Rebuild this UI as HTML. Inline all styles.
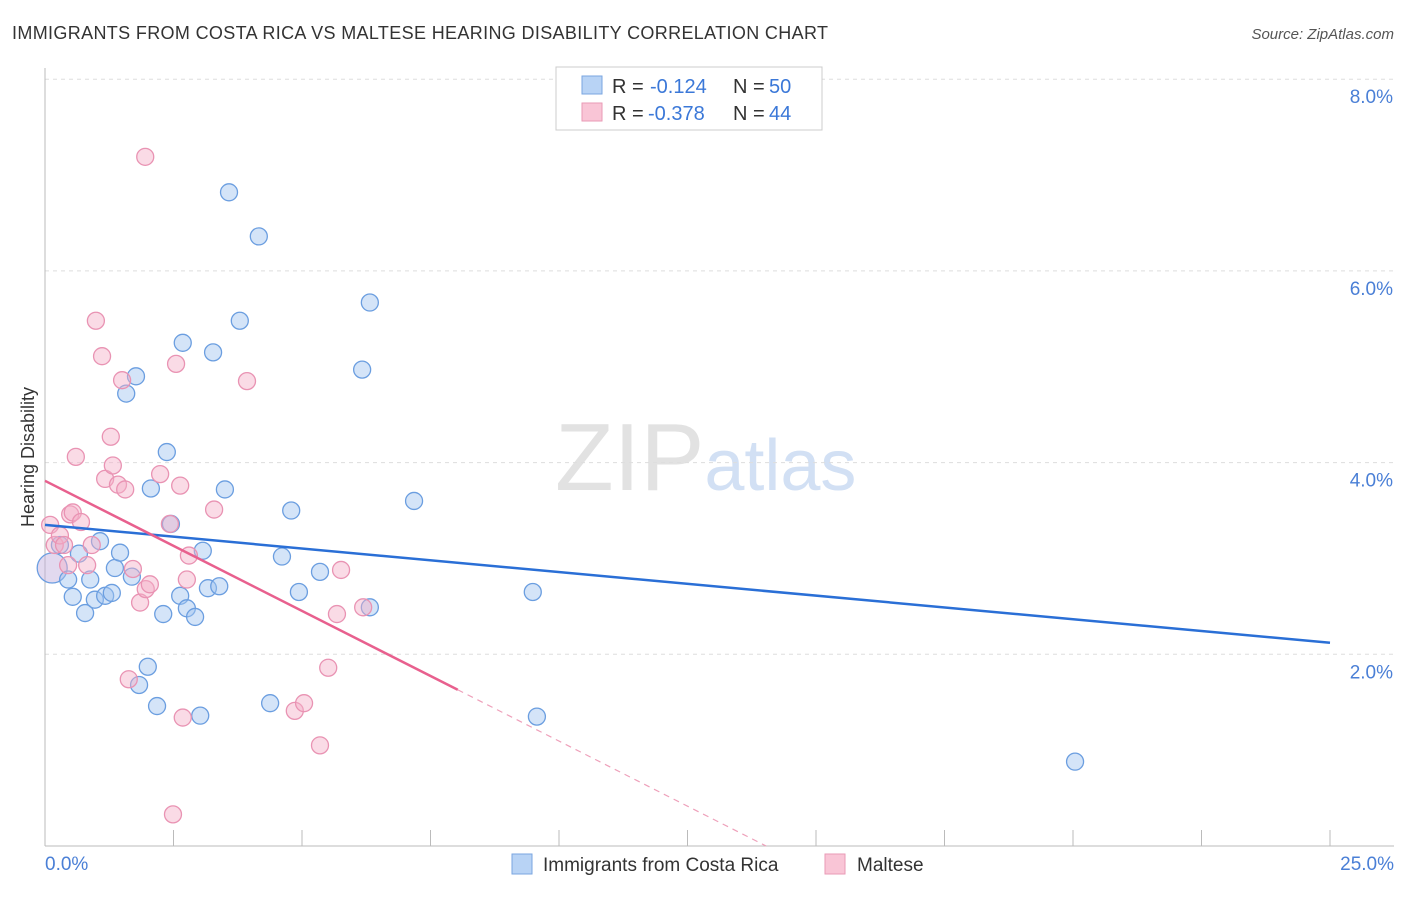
<!DOCTYPE html>
<html><head><meta charset="utf-8"><style>
body{margin:0;background:#fff;font-family:"Liberation Sans",sans-serif;}
svg text{font-family:"Liberation Sans",sans-serif;}
</style></head><body>
<svg id="chart" width="1406" height="892" xmlns="http://www.w3.org/2000/svg">
<text x="12" y="39" font-size="18" fill="#333" textLength="816" lengthAdjust="spacing">IMMIGRANTS FROM COSTA RICA VS MALTESE HEARING DISABILITY CORRELATION CHART</text>
<text x="1394" y="39" font-size="15" fill="#555" text-anchor="end" font-style="italic">Source: ZipAtlas.com</text>
<text x="555" y="490" font-size="96" fill="#e2e2e2" font-family="Liberation Serif">ZIP<tspan fill="#d2e0f4" font-family="Liberation Sans" font-size="72">atlas</tspan></text>
<text transform="translate(34,457) rotate(-90)" font-size="18" fill="#333" text-anchor="middle">Hearing Disability</text>
<g id="grid"></g><g id="axes"></g><g id="marks"></g>
<g>
<rect x="556" y="67" width="266" height="63" fill="#fff" stroke="#ccc"/>
<rect x="582" y="76" width="20" height="18" fill="#b8d3f5" stroke="#7aa6e0"/>
<rect x="582" y="103" width="20" height="18" fill="#f9c5d6" stroke="#e99ab6"/>
<text x="612" y="93" font-size="20" fill="#333">R =</text>
<text x="650" y="93" font-size="20" fill="#3b78d8">-0.124</text>
<text x="733" y="93" font-size="20" fill="#333">N =</text>
<text x="769" y="93" font-size="20" fill="#3b78d8">50</text>
<text x="612" y="120" font-size="20" fill="#333">R =</text>
<text x="648" y="120" font-size="20" fill="#3b78d8">-0.378</text>
<text x="733" y="120" font-size="20" fill="#333">N =</text>
<text x="769" y="120" font-size="20" fill="#3b78d8">44</text>
</g>
<g>
<rect x="512" y="854" width="20" height="20" fill="#b8d3f5" stroke="#7aa6e0"/>
<text x="543" y="871" font-size="19" fill="#333">Immigrants from Costa Rica</text>
<rect x="825" y="854" width="20" height="20" fill="#f9c5d6" stroke="#e99ab6"/>
<text x="857" y="871" font-size="19" fill="#333">Maltese</text>
</g>
</svg>
<script>
const yTicks=[2,4,6,8];
const yTickLabels=["2.0%","4.0%","6.0%","8.0%"];
const xLabels=["0.0%","25.0%"];
const blueX=[0.14,0.29,0.45,0.54,0.66,0.78,0.88,0.97,1.07,1.17,1.30,1.36,1.46,1.58,1.69,1.77,1.83,2.00,2.06,2.18,2.30,2.37,2.45,2.63,2.68,2.76,2.92,3.02,3.07,3.17,3.27,3.39,3.50,3.58,3.79,4.16,4.38,4.61,4.79,4.94,5.35,6.17,6.32,6.32,7.18,9.49,9.57,20.04];
const blueY=[2.90,3.14,2.78,2.60,3.05,2.43,2.78,2.57,3.18,2.61,2.64,2.90,3.06,4.72,2.81,4.90,1.68,1.87,3.73,1.46,2.42,4.11,3.36,2.61,5.25,2.48,2.39,1.36,3.08,2.69,5.15,2.71,3.72,6.82,5.48,6.36,1.49,3.02,3.50,2.65,2.86,4.97,5.67,2.49,3.60,2.65,1.35,0.88];
const pinkX=[0.10,0.19,0.29,0.37,0.45,0.49,0.54,0.60,0.70,0.82,0.91,0.99,1.11,1.17,1.28,1.32,1.42,1.50,1.56,1.63,1.71,1.85,1.96,2.04,1.95,2.24,2.43,2.55,2.63,2.68,2.76,2.80,3.29,3.93,4.86,5.04,5.35,5.51,5.68,5.76,6.19,2.49];
const pinkY=[3.35,3.14,3.24,3.14,2.93,3.46,3.48,4.06,3.38,2.93,3.14,5.48,5.11,3.83,4.27,3.97,3.77,4.86,3.72,1.74,2.89,2.54,2.68,2.73,7.19,3.88,3.36,5.03,3.76,1.34,2.78,3.03,3.51,4.85,1.41,1.49,1.05,1.86,2.42,2.88,2.49,0.33];
const blueLine=[[0,3.35],[25,2.12]];
const pinkLine=[[0,3.81],[8.03,1.63]];
const pinkDash=[[8.03,1.63],[14.03,0]];
const X=v=>45+v*51.4, Y=v=>846-v*95.85;
const NS="http://www.w3.org/2000/svg";
function mk(p,t,a){const e=document.createElementNS(NS,t);for(const k in a)e.setAttribute(k,a[k]);p.appendChild(e);return e;}
const grid=document.getElementById('grid'),axes=document.getElementById('axes'),marks=document.getElementById('marks');
yTicks.forEach((t,i)=>{
 const l=mk(grid,'line',{x1:45,x2:1394,y1:Y(t),y2:Y(t),stroke:'#ddd','stroke-dasharray':'4,4'});
 
 
 const tx=mk(axes,'text',{x:1393,y:Y(t)+24,'font-size':19,fill:'#4a7fd6','text-anchor':'end'});
 tx.textContent=yTickLabels[i];
 
 
});
let a=mk(axes,'line',{x1:45,x2:45,y1:68,y2:846,stroke:'#bbb'});


a=mk(axes,'line',{x1:45,x2:1394,y1:846,y2:846,stroke:'#bbb'});


for(let i=0;i<=10;i++){const t=mk(axes,'line',{x1:X(i*2.5),x2:X(i*2.5),y1:830,y2:846,stroke:'#bbb'});
 
 }
let xt=mk(axes,'text',{x:45,y:870,'font-size':19,fill:'#4a7fd6'});xt.textContent=xLabels[0];


xt=mk(axes,'text',{x:1394,y:870,'font-size':19,fill:'#4a7fd6','text-anchor':'end'});xt.textContent=xLabels[1];


blueX.forEach((x,i)=>{const c=mk(marks,'circle',{cx:X(x),cy:Y(blueY[i]),r:i==0?15:8.5,fill:i==0?'rgba(190,170,220,0.45)':'rgba(160,195,240,0.45)',stroke:'#6b9ee0','stroke-width':1.3});
 
 });
pinkX.forEach((x,i)=>{const c=mk(marks,'circle',{cx:X(x),cy:Y(pinkY[i]),r:8.5,fill:'rgba(245,175,200,0.45)',stroke:'#e993b3','stroke-width':1.3});
 
 });
let ln=mk(marks,'line',{x1:X(blueLine[0][0]),y1:Y(blueLine[0][1]),x2:X(blueLine[1][0]),y2:Y(blueLine[1][1]),stroke:'#2a6fd6','stroke-width':2.5});


ln=mk(marks,'line',{x1:X(pinkLine[0][0]),y1:Y(pinkLine[0][1]),x2:X(pinkLine[1][0]),y2:Y(pinkLine[1][1]),stroke:'#e8608e','stroke-width':2.5});


ln=mk(marks,'line',{x1:X(pinkDash[0][0]),y1:Y(pinkDash[0][1]),x2:X(pinkDash[1][0]),y2:Y(pinkDash[1][1]),stroke:'#eea0ba','stroke-width':1.2,'stroke-dasharray':'6,5'});


</script>
</body></html>
